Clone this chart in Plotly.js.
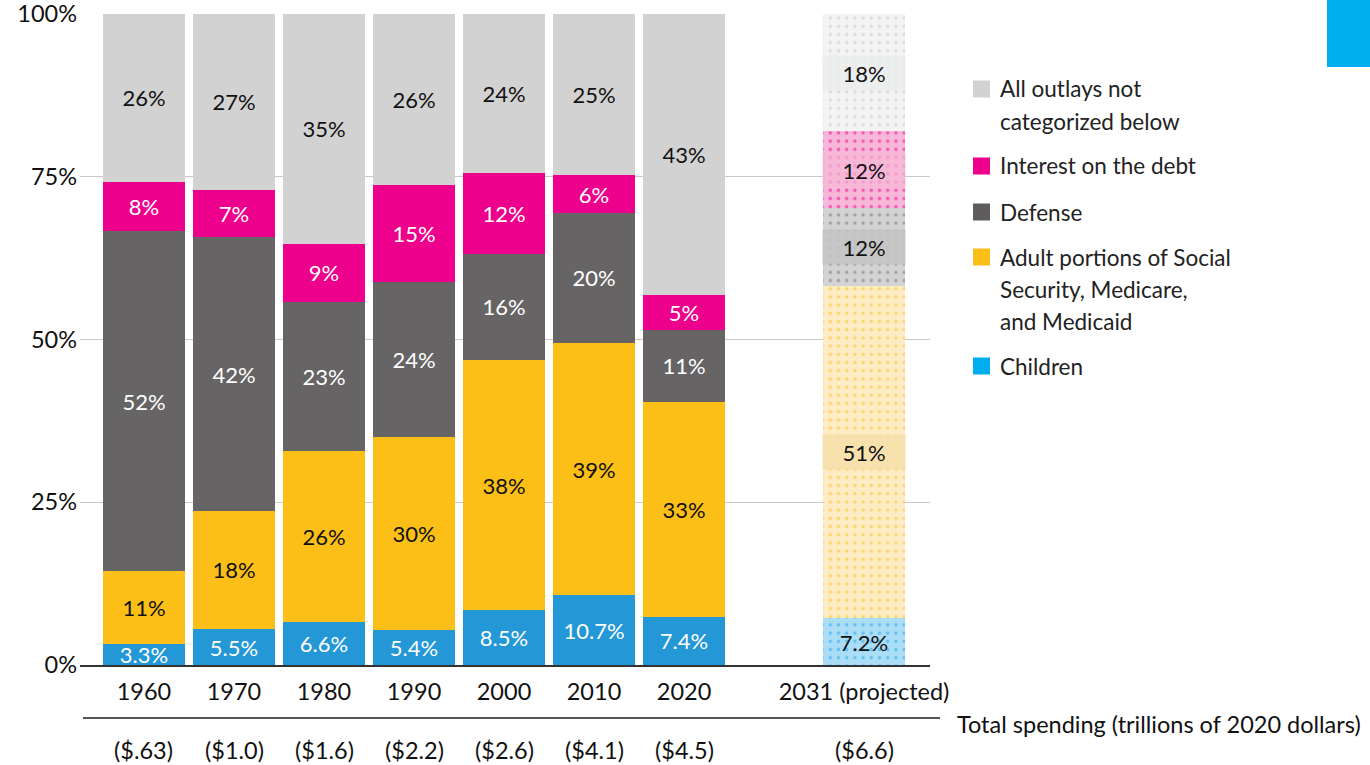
<!DOCTYPE html>
<html>
<head>
<meta charset="utf-8">
<script src="https://cdn.plot.ly/plotly-3.0.1.min.js"></script>
<style>html,body{margin:0;padding:0;background:#fff;}#chart{width:1370px;height:765px;}</style>
</head>
<body>
<div id="chart"></div>
<script>
// ---- data ----
const years = ['1960','1970','1980','1990','2000','2010','2020','2031 (projected)'];
const totals = ['($.63)','($1.0)','($1.6)','($2.2)','($2.6)','($4.1)','($4.5)','($6.6)'];
const children = [3.3, 5.5, 6.6, 5.4, 8.5, 10.7, 7.4, 7.2];
const adult    = [11.1, 18.2, 26.2, 29.6, 38.3, 38.7, 33.0, 51.0];
const defense  = [52.3, 42.0, 23.0, 23.8, 16.4, 20.1, 11.1, 12.0];
const interest = [7.5, 7.3, 8.9, 14.9, 12.4, 5.7, 5.3, 11.8];
const other    = [25.8, 27.0, 35.3, 26.3, 24.4, 24.8, 43.2, 18.0];
const seriesNames = ['Children', 'Adult portions of Social<br>Security, Medicare,<br>and Medicaid', 'Defense', 'Interest on the debt', 'All outlays not<br>categorized below'];
const yTicks = [0, 25, 50, 75, 100];
const yTickText = ['0%', '25%', '50%', '75%', '100%'];
const axisNote = 'Total spending (trillions of 2020 dollars)';

// ---- styles ----
const FONT = 'Lato, "Open Sans", sans-serif';
const FS = 22;      // bar labels
const FA = 23.5;    // axis labels
const FL = 22.5;    // legend
const styles = [
  {solid:'#2497d6', light:'#abddf6', dot:'#1ea6ea', band:'rgba(170,220,246,0)', legend:'#00aeef', txt:'#ffffff', projTxt:'#111111', fmt:1},
  {solid:'#fbbf17', light:'#fdecc4', dot:'#fbbf17', band:'rgba(246,224,172,0.85)', legend:'#fbbf17', txt:'#111111', projTxt:'#111111', fmt:0},
  {solid:'#676465', light:'#d3d3d3', dot:'#767676', band:'rgba(196,196,196,0.9)', legend:'#5f5c5d', txt:'#ffffff', projTxt:'#111111', fmt:0},
  {solid:'#ec008c', light:'#f8b7d8', dot:'#ec008c', band:'rgba(246,184,216,0.7)', legend:'#ec008c', txt:'#ffffff', projTxt:'#111111', fmt:0},
  {solid:'#d3d2d2', light:'#f3f3f3', dot:'#c6c6c6', band:'rgba(235,236,236,0.85)', legend:'#d2d2d2', txt:'#111111', projTxt:'#111111', fmt:0}
];
const series = [children, adult, defense, interest, other];
const nHist = 7;
const slot = years.map((_, i) => i < nHist ? i : i + 1);

const traces = [];
series.forEach((vals, s) => {
  const st = styles[s];
  const hv = vals.slice(0, nHist);
  traces.push({
    type: 'bar', x: slot.slice(0, nHist), y: hv, width: 0.91, name: seriesNames[s], showlegend: false,
    text: hv.map(v => (st.fmt ? v.toFixed(1) : Math.round(v)) + '%'),
    textposition: 'inside', insidetextanchor: 'middle', constraintext: 'none',
    textfont: {family: FONT, size: FS, color: st.txt},
    hoverinfo: 'skip',
    marker: {color: st.solid, line: {width: 0}}
  });
  traces.push({
    type: 'bar', x: slot.slice(nHist), y: vals.slice(nHist), width: 0.91, name: seriesNames[s] + ' (projected)',
    showlegend: false, hoverinfo: 'skip',
    marker: {color: st.light, line: {width: 0},
      pattern: {shape: '.', fgcolor: st.dot, size: 8.2, solidity: 0.14, fillmode: 'overlay'}}
  });
});

const annotations = [];
const shapes = [];
// projected-bar labels with soft bands
let cum = 0;
series.forEach((vals, s) => {
  const v = vals[nHist];
  const st = styles[s];
  annotations.push({
    x: slot[nHist], y: cum + v / 2, xref: 'x', yref: 'y', showarrow: false,
    text: (st.fmt ? v.toFixed(1) : Math.round(v)) + '%',
    font: {family: FONT, size: FS, color: st.projTxt},
    bgcolor: st.band, width: 82, height: 34, borderpad: 0
  });
  cum += v;
});
// total spending row
totals.forEach((t, i) => {
  annotations.push({x: slot[i], y: (665 - 750) / 651, xref: 'x', yref: 'paper', showarrow: false,
    text: t, font: {family: FONT, size: FA, color: '#111'}, yanchor: 'middle'});
});
annotations.push({x: (955 - 80) / 850, y: (665 - 724) / 651, xref: 'paper', yref: 'paper', showarrow: false,
  text: axisNote, xanchor: 'left', yanchor: 'middle', font: {family: FONT, size: FA, color: '#111'}});
shapes.push({type: 'line', xref: 'paper', yref: 'paper', x0: (83 - 80) / 850, x1: (940 - 80) / 850,
  y0: (665 - 718) / 651, y1: (665 - 718) / 651, line: {color: '#555', width: 2}});
// top-right accent block
shapes.push({type: 'rect', xref: 'paper', yref: 'paper', x0: (1327-80)/850, x1: (1372-80)/850,
  y0: (665-67)/651, y1: (665+2)/651, fillcolor: '#00aeef', line: {width: 0}});

// manual legend (top to bottom)
const legendRows = [
  {s: 4, y: 89}, {s: 3, y: 166}, {s: 2, y: 212}, {s: 1, y: 257}, {s: 0, y: 366}
];
legendRows.forEach(r => {
  const py = v => (665 - v) / 651;
  const px = v => (v - 80) / 850;
  shapes.push({type: 'rect', xref: 'paper', yref: 'paper', x0: px(973), x1: px(990),
    y0: py(r.y + 8.5), y1: py(r.y - 8.5), fillcolor: styles[r.s].legend, line: {width: 0}});
  seriesNames[r.s].split('<br>').forEach((line, k) => {
    annotations.push({x: px(998), y: py(r.y + 32 * k), xref: 'paper', yref: 'paper', showarrow: false,
      xanchor: 'left', yanchor: 'middle', text: line, font: {family: FONT, size: FL, color: '#222'}});
  });
});

const layout = {
  width: 1370, height: 765,
  margin: {l: 80, r: 440, t: 14, b: 100},
  paper_bgcolor: '#fff', plot_bgcolor: '#fff',
  barmode: 'stack', bargap: 0,
  showlegend: false,
  font: {family: FONT, size: FS, color: '#111'},
  xaxis: {
    range: [-0.711, 8.733], tickvals: slot, ticktext: years, ticks: '', ticklabelstandoff: 5,
    showgrid: false, zeroline: false, showline: true, linecolor: '#333', linewidth: 1.5,
    tickfont: {family: FONT, size: FA, color: '#111'}, fixedrange: true, ticklabeloverflow: 'allow'
  },
  yaxis: {
    range: [0, 100], tickvals: yTicks, ticktext: yTickText, ticks: '', ticklabelstandoff: 2,
    showgrid: true, gridcolor: '#c9c9c9', gridwidth: 1, zeroline: false, showline: false,
    tickfont: {family: FONT, size: FA, color: '#111'}, fixedrange: true, ticklabeloverflow: 'allow'
  },
  annotations: annotations,
  shapes: shapes
};

Plotly.newPlot('chart', traces, layout, {displayModeBar: false, staticPlot: true});
</script>
</body>
</html>
